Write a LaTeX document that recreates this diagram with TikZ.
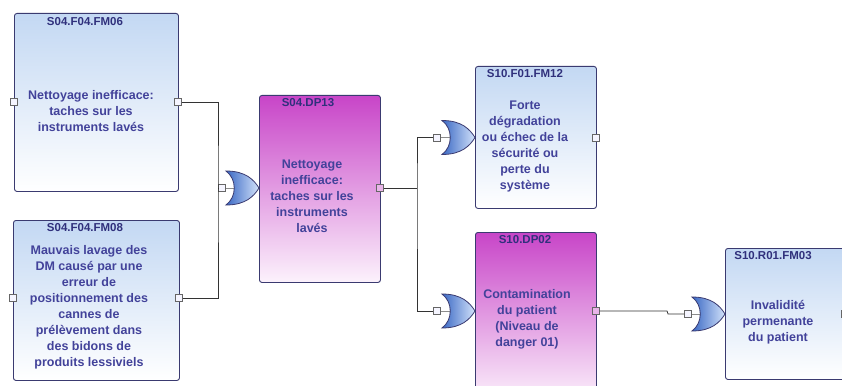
\documentclass[tikz,border=0pt]{standalone}
\usepackage{fontspec}
\setmainfont{Liberation Sans}
\usetikzlibrary{calc}
\definecolor{txt}{HTML}{42429A}
\definecolor{hdrc}{HTML}{30307C}
\definecolor{edge}{HTML}{3A3A70}
\definecolor{bluetop}{HTML}{C3D8F3}
\definecolor{magtop}{HTML}{C845C8}
\definecolor{magbot}{HTML}{FCF2FC}
\definecolor{gateL}{HTML}{3A68C4}
\definecolor{gateR}{HTML}{D2E2FA}
\tikzset{
 fmbox/.style={draw=edge, line width=0.9pt, rounded corners=2.5pt, top color=bluetop, bottom color=white, anchor=north west, inner sep=0pt},
 dpbox/.style={draw=edge, line width=0.9pt, rounded corners=2.5pt, top color=magtop, bottom color=magbot, anchor=north west, inner sep=0pt},
 hdr/.style={font=\bfseries\fontsize{11.5}{13}\selectfont, text=hdrc, inner sep=0pt},
 body/.style={font=\bfseries\fontsize{12.5}{16}\selectfont, text=txt, align=center, inner sep=0pt},
 port/.style={draw=black!60, fill=blue!4, minimum size=7pt, inner sep=0pt, line width=0.7pt},
 mport/.style={port, fill=magtop!40},
 wire/.style={draw=black!80, line width=0.8pt},
 stub/.style={draw=black!45, line width=0.8pt},
 orgate/.pic={
  \path[draw=edge, line width=0.8pt, left color=gateL, right color=gateR]
   (-33,-17) .. controls (-13,-17) and (-5,-8) .. (0,0)
   .. controls (-5,8) and (-13,17) .. (-33,17)
   .. controls (-22,9) and (-22,-9) .. (-33,-17) -- cycle;
 }
}
\begin{document}
\begin{tikzpicture}[x=1pt,y=-1pt]
\useasboundingbox (0,0) rectangle (842,385);
\clip (0,0) rectangle (842,385);
\fill[white] (0,0) rectangle (842,385);

% boxes
\node[fmbox, minimum width=164pt, minimum height=178pt] (fm06) at (14,13) {};
\node[fmbox, minimum width=166pt, minimum height=160pt] (fm08) at (13,220) {};
\node[dpbox, minimum width=121pt, minimum height=187pt] (dp13) at (259,95) {};
\node[fmbox, minimum width=121pt, minimum height=142pt] (fm12) at (475,66) {};
\node[dpbox, minimum width=121pt, minimum height=170pt] (dp02) at (475,232) {};
\node[fmbox, minimum width=140pt, minimum height=131pt] (fm03) at (725,248) {};

% headers
\node[hdr] (h06) at (85,22) {S04.F04.FM06};
\node[hdr] (h08) at (85,228) {S04.F04.FM08};
\node[hdr] (h13) at (308,103) {S04.DP13};
\node[hdr] (h12) at (525,74) {S10.F01.FM12};
\node[hdr] (h02) at (525,240) {S10.DP02};
\node[hdr] (h03) at (773,256) {S10.R01.FM03};

% bodies
\node[body] (b06) at (91,111) {Nettoyage inefficace:\\taches sur les\\instruments lavés};
\node[body] (b08) at (89,307.5) {Mauvais lavage des\\DM causé par une\\erreur de\\positionnement des\\cannes de\\prélèvement dans\\des bidons de\\produits lessiviels};
\node[body] (b13) at (312,196) {Nettoyage\\inefficace:\\taches sur les\\instruments\\lavés};
\node[body] (b12) at (525,146.5) {Forte\\dégradation\\ou échec de la\\sécurité ou\\perte du\\système};
\node[body] (b02) at (527,319.5) {Contamination\\du patient\\(Niveau de\\danger 01)};
\node[body] (b03) at (778,322) {Invalidité\\permenante\\du patient};

% gates
\coordinate (g1) at (259,188);
\coordinate (g2) at (475,137.5);
\coordinate (g3) at (475,311);
\coordinate (g4) at (725,314);
\node[port] (g1in) at (222,188) {};
\node[port] (g2in) at (437,137.5) {};
\node[port] (g3in) at (437,311) {};
\node[port] (g4in) at (688,314) {};
\draw[stub] (g1in.east) -- ++(10,0);
\draw[stub] (g2in.east) -- ++(10,0);
\draw[stub] (g3in.east) -- ++(10,0);
\draw[stub] (g4in.east) -- ++(10,0);
\pic at (g1) {orgate};
\pic at (g2) {orgate};
\pic at (g3) {orgate};
\pic at (g4) {orgate};

% ports
\node[port] (p06l) at (14,102) {};
\node[port] (p06r) at (178,102) {};
\node[port] (p08l) at (13,298) {};
\node[port] (p08r) at (179,298) {};
\node[mport] (p13r) at (380,188) {};
\node[port] (p12r) at (596,138) {};
\node[mport] (p02r) at (596,311) {};
\node[port] (p03r) at (845,314) {};

% wires
\coordinate (bus1) at (218,188);
\coordinate (bus2) at (417,188);
\coordinate (jog) at (667,311);
\draw[wire] (p06r.east) -| (bus1) |- (p08r.east);
\draw[wire] (bus1) -- (g1in.west);
\draw[wire] (p13r.east) -- (bus2);
\draw[wire] (g2in.west) -| (bus2) |- (g3in.west);
\draw[wire] (p02r.east) -- (jog) -- ++(1,3) -- (g4in.west);
\end{tikzpicture}
\end{document}
